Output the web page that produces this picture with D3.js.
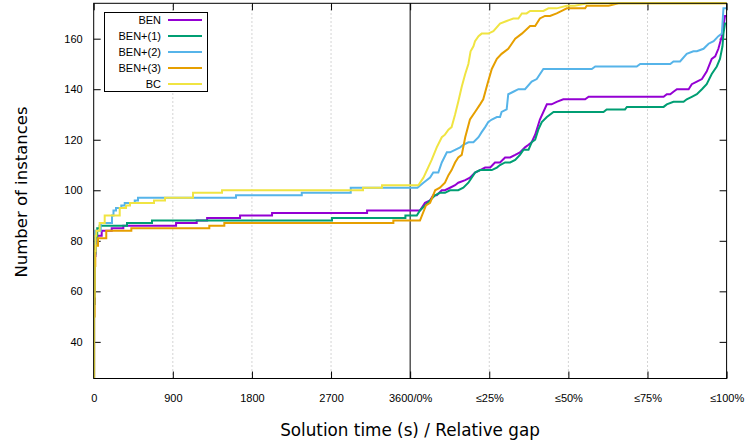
<!DOCTYPE html>
<html><head><meta charset="utf-8">
<script src="https://cdn.jsdelivr.net/npm/d3@7"></script>
<style>
body{margin:0;background:#fff}
svg{display:block}
text{fill:#000}
</style>
</head><body>
<svg id="chart" width="745" height="442" font-family="Liberation Sans, Arial, sans-serif"></svg>
<script>
// ---------- data ----------
const seriesNames = ["BEN", "BEN+(1)", "BEN+(2)", "BEN+(3)", "BC"];
const seriesColors = ["#9400d3", "#009e73", "#56b4e9", "#e69f00", "#f0e442"];
const timeTicks = [0, 900, 1800, 2700, 3600];
const timeTickLabels = ["0", "900", "1800", "2700", "3600/0%"];
const gapTicks = [25, 50, 75, 100];
const gapTickLabels = ["≤25%", "≤50%", "≤75%", "≤100%"];
const yTicks = [40, 60, 80, 100, 120, 140, 160];

// solved instances by time (seconds, cumulative count) – step events
const benTime = [[0,26],[4,55],[10,74],[20,79],[40,82],[91,84],[205,85],[337,86],[937,87],[1172,88],[1290,89],[1665,90],[2029,91],[3110,92]];
const ben1Time = [[0,26],[4,55],[10,75],[20,81],[40,85],[68,86],[379,87],[663,88],[2711,89],[3546,90]];
const ben2Time = [[0,26],[4,55],[9,75],[18,84],[80,87],[208,90],[225,92],[254,93],[314,94],[353,95],[467,96],[504,97],[1619,98],[2367,99],[2924,101]];
const ben3Time = [[0,26],[5,50],[11,70],[18,78],[49,81],[143,84],[428,85],[1315,86],[1486,87],[3409,88]];
const bcTime = [[0,26],[4,58],[9,76],[20,82],[30,84],[68,87],[125,90],[296,93],[368,94],[413,95],[686,96],[811,97],[1130,99],[1460,100],[3064,101],[3280,102]];

// instances by relative gap (gap %, cumulative count)
const benGap = [[0,92],[3.1,92],[4.7,95],[6.3,96],[7.3,98],[8.4,98],[10.0,100],[11.0,100],[12.6,101],[14.2,102],[15.2,103],[17.4,104],[18.9,105],[20.5,107],[22.1,108],[23.7,109],[25.3,109],[26.8,111],[28.4,111],[30.0,113],[31.6,113],[33.2,114],[34.7,115],[36.3,117],[37.4,118],[38.4,119],[39.5,122],[41.0,128],[43.2,134],[44.7,134],[46.3,135],[48.4,136],[55.3,136],[56.4,137],[80.1,137],[81.1,138],[82.2,138],[83.2,139],[84.3,140],[88.0,140],[89.0,142],[90.6,143],[92.2,144],[93.7,147],[95.3,152],[96.4,153],[97.4,156],[98.5,161],[99.0,165],[99.5,169],[100,169]];
const ben1Gap = [[0,90],[2.1,90],[3.1,92],[4.7,94],[6.3,96],[7.9,98],[9.4,99],[11.0,99],[12.6,100],[15.2,100],[16.8,101],[18.4,103],[20.5,107],[22.1,108],[25.8,108],[27.4,109],[28.4,110],[30.0,111],[31.6,111],[33.2,112],[34.7,114],[35.8,116],[37.4,116],[38.4,119],[39.5,120],[40.5,124],[41.6,127],[43.2,129],[45.3,131],[61.1,131],[62.1,132],[67.9,132],[68.5,133],[80.1,133],[81.1,134],[83.2,135],[86.4,135],[87.4,136],[89.0,137],[90.6,138],[92.2,140],[93.7,142],[95.3,146],[96.9,149],[97.9,152],[98.7,157],[99.0,162],[99.5,166],[100,166]];
const ben2Gap = [[0,101],[2.3,101],[4.2,103],[6.3,105],[7.3,107],[8.9,107],[10.0,111],[11.6,115],[12.6,115],[14.2,116],[15.8,117],[16.8,118],[18.4,119],[20.0,119],[21.6,121],[22.6,123],[23.7,125],[24.7,127],[25.8,128],[27.4,129],[28.4,129],[28.9,131],[30.5,132],[31.0,138],[32.6,139],[34.2,140],[36.3,140],[38.4,143],[40.0,144],[42.1,148],[57.4,148],[58.5,149],[71.6,149],[72.7,150],[82.2,150],[83.2,151],[85.3,151],[87.4,154],[89.5,155],[90.6,155],[92.7,156],[94.3,158],[95.9,159],[97.4,161],[98.5,162],[99.0,172],[100,172]];
const ben3Gap = [[0,88],[3.1,88],[5.0,94],[6.3,95],[7.9,100],[9.4,101],[11.0,103],[12.1,106],[13.1,108],[14.2,111],[15.2,113],[16.3,114],[17.4,121],[18.9,128],[20.5,131],[22.1,134],[23.1,136],[24.4,142],[25.8,148],[27.4,152],[28.9,154],[31.0,156],[33.2,160],[35.3,162],[37.9,165],[39.5,165],[41.0,168],[42.6,169],[44.2,169],[46.3,170],[47.9,171],[49.5,172],[55.3,172],[55.8,173],[62.7,173],[65.8,174],[100,174]];
const bcGap = [[0,102],[2.6,102],[4.2,105],[6.8,112],[8.4,117],[10.0,121],[11.0,122],[12.1,124],[13.1,125],[14.2,130],[15.2,135],[16.3,141],[17.4,146],[18.4,150],[19.1,155],[20.0,157],[20.5,159],[21.6,161],[22.6,162],[24.7,162],[26.3,163],[28.4,166],[30.5,167],[32.6,168],[34.2,168],[35.3,170],[36.8,170],[37.9,171],[42.1,171],[43.7,172],[46.3,172],[49.5,173],[52.0,173],[56.0,174],[100,174]];

const timeSeries = [benTime, ben1Time, ben2Time, ben3Time, bcTime];
const gapSeries = [benGap, ben1Gap, ben2Gap, ben3Gap, bcGap];

// ---------- layout ----------
const L = 93.7, R = 726.6, T = 3.3, B = 378.5;
const mid = (L + R) / 2;
const tickFont = "Liberation Sans, Arial, sans-serif";
const titleFont = "DejaVu Sans, Verdana, sans-serif";

const svg = d3.select("#chart");
const xTime = d3.scaleLinear().domain([0, 3600]).range([L, mid]);
const xGap = d3.scaleLinear().domain([0, 100]).range([mid, R]);
const y = d3.scaleLinear().domain([25.5, 174]).range([B, T]);

// dotted grid
const gridG = svg.append("g").attr("stroke", "#a8a8a8").attr("stroke-width", 1).attr("stroke-dasharray", "1,3");
[900, 1800, 2700].forEach(t => gridG.append("line").attr("x1", xTime(t)).attr("x2", xTime(t)).attr("y1", B).attr("y2", T));
[25, 50, 75].forEach(g => gridG.append("line").attr("x1", xGap(g)).attr("x2", xGap(g)).attr("y1", B).attr("y2", T));

// separator
svg.append("line").attr("x1", xTime(3600)).attr("x2", xTime(3600)).attr("y1", B).attr("y2", T)
  .attr("stroke", "#000").attr("stroke-width", 1);

// axes
function styleAxis(g) {
  g.select(".domain").remove();
  g.selectAll(".tick line").attr("stroke", "#000");
  g.selectAll("text").attr("font-size", 11).attr("fill", "#000").style("font-family", tickFont);
}
svg.append("g").attr("transform", `translate(${L},0)`)
  .call(d3.axisLeft(y).tickValues(yTicks).tickSizeInner(-7).tickSizeOuter(0).tickPadding(11))
  .call(styleAxis);
svg.append("g").attr("transform", `translate(${R},0)`)
  .call(d3.axisRight(y).tickValues(yTicks).tickSizeInner(-7).tickSizeOuter(0).tickFormat(""))
  .call(styleAxis);
svg.append("g").attr("transform", `translate(0,${B})`)
  .call(d3.axisBottom(xTime).tickValues(timeTicks).tickSizeInner(-7).tickSizeOuter(0).tickPadding(16)
    .tickFormat((d, i) => timeTickLabels[i]))
  .call(styleAxis);
svg.append("g").attr("transform", `translate(0,${B})`)
  .call(d3.axisBottom(xGap).tickValues(gapTicks).tickSizeInner(-7).tickSizeOuter(0).tickPadding(16)
    .tickFormat((d, i) => gapTickLabels[i]))
  .call(styleAxis);
svg.append("g").attr("transform", `translate(0,${T})`)
  .call(d3.axisTop(xTime).tickValues(timeTicks).tickSizeInner(-7).tickSizeOuter(0).tickFormat(""))
  .call(styleAxis);
svg.append("g").attr("transform", `translate(0,${T})`)
  .call(d3.axisTop(xGap).tickValues(gapTicks).tickSizeInner(-7).tickSizeOuter(0).tickFormat(""))
  .call(styleAxis);

// curves
svg.append("clipPath").attr("id", "plotclip").append("rect")
  .attr("x", L).attr("y", T - 2).attr("width", R - L + 2).attr("height", B - T + 2);
const line = d3.line().x(d => d[0]).y(d => d[1]);
const curveG = svg.append("g").attr("clip-path", "url(#plotclip)");
seriesNames.forEach((name, i) => {
  const pts = [];
  const tArr = timeSeries[i];
  tArr.forEach((d, j) => {
    if (j > 0) pts.push([xTime(d[0]), y(tArr[j - 1][1])]);
    pts.push([xTime(d[0]), y(d[1])]);
  });
  pts.push([xTime(3600), y(tArr[tArr.length - 1][1])]);
  gapSeries[i].forEach(d => pts.push([xGap(d[0]), y(d[1])]));
  curveG.append("path").attr("d", line(pts)).attr("fill", "none")
    .attr("stroke", seriesColors[i]).attr("stroke-width", 2).attr("stroke-linejoin", "miter");
});

// frame
svg.append("rect").attr("x", L).attr("y", T).attr("width", R - L).attr("height", B - T)
  .attr("fill", "none").attr("stroke", "#000").attr("stroke-width", 1);

// legend
const lg = svg.append("g");
lg.append("rect").attr("x", 104.5).attr("y", 12.5).attr("width", 103).attr("height", 79)
  .attr("fill", "#fff").attr("stroke", "#000").attr("stroke-width", 1);
seriesNames.forEach((name, i) => {
  const yy = 20 + i * 16;
  lg.append("text").attr("x", 161).attr("y", yy).attr("dy", "0.35em").attr("text-anchor", "end")
    .attr("font-size", 11).style("font-family", tickFont).text(name);
  lg.append("line").attr("x1", 168).attr("x2", 202).attr("y1", yy).attr("y2", yy)
    .attr("stroke", seriesColors[i]).attr("stroke-width", 2);
});

// axis titles
svg.append("text").attr("x", 410).attr("y", 430).attr("dy", "0.35em").attr("text-anchor", "middle")
  .attr("font-size", 16.8).style("font-family", titleFont).text("Solution time (s) / Relative gap");
svg.append("text").attr("transform", "translate(21,192) rotate(-90)").attr("dy", "0.35em").attr("text-anchor", "middle")
  .attr("font-size", 16.5).style("font-family", titleFont).text("Number of instances");
</script>
</body></html>
